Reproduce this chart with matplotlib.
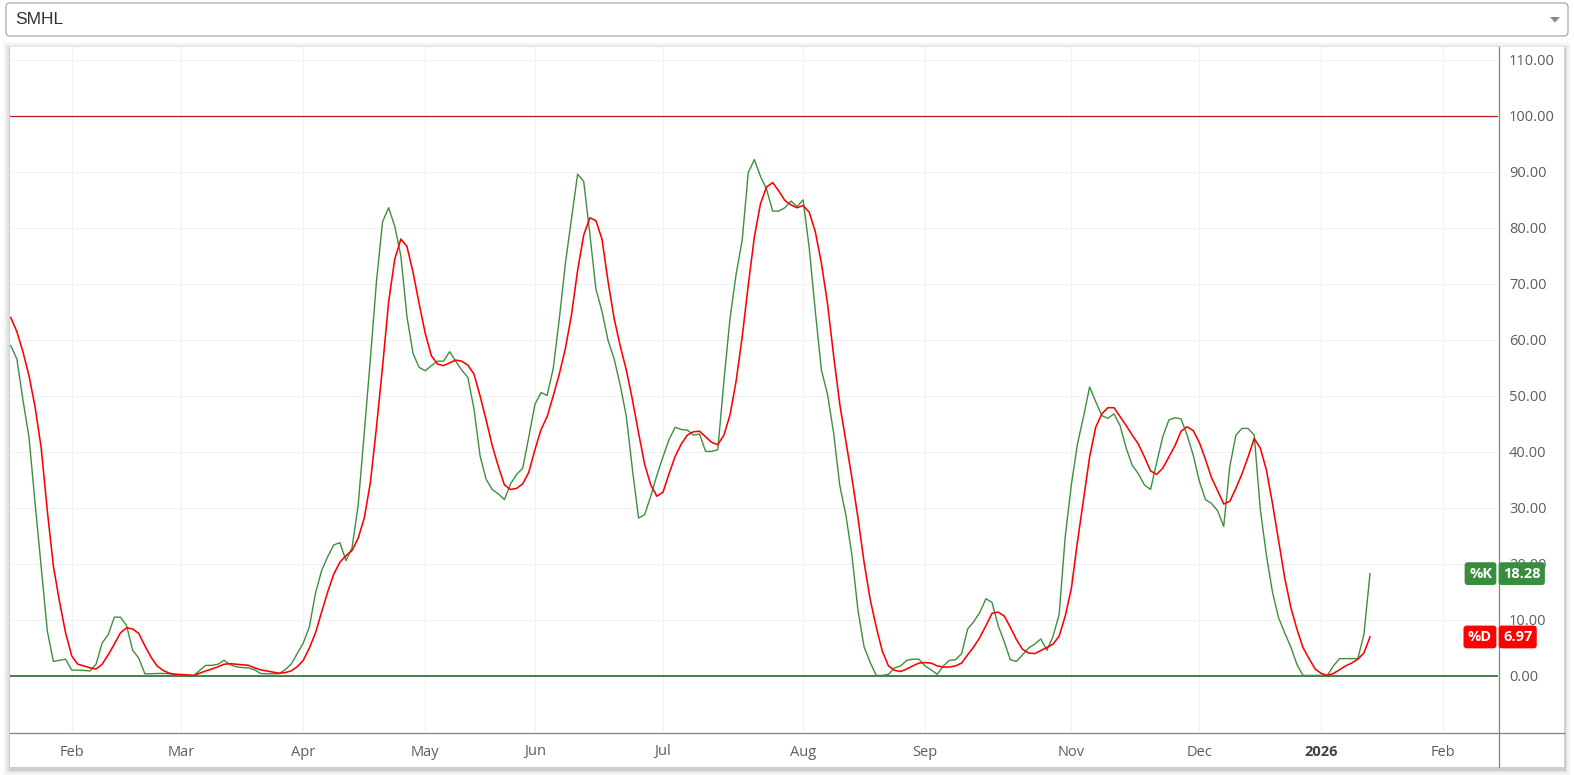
import numpy as np
import matplotlib.pyplot as plt
from matplotlib.patches import FancyBboxPatch, Rectangle, Polygon
from matplotlib import transforms

# ---------------- data ----------------
symbol = "SMHL"

k_values = [59.0, 56.6, 49.3, 42.6, 30.8, 19.5, 8.05, 2.6, 2.8, 3.0, 1.05, 1.05,
            1.0, 0.9, 2.1, 5.9, 7.4, 10.5, 10.5, 9.0, 4.6, 3.2, 0.4, 0.4,
            0.45, 0.45, 0.4, 0.3, 0.2, 0.1, 0.05, 1.0, 1.9, 1.9, 2.1, 2.8,
            2.0, 1.65, 1.5, 1.45, 1.1, 0.45, 0.4, 0.4, 0.4, 1.1, 2.1, 4.0,
            5.9, 8.8, 14.8, 18.8, 21.3, 23.4, 23.8, 20.6, 22.9, 30.5, 43.4, 56.6,
            70.4, 81.1, 83.6, 80.3, 75.0, 64.2, 57.6, 55.1, 54.5, 55.4, 56.2, 56.2,
            57.9, 56.2, 54.6, 53.3, 47.7, 39.3, 35.1, 33.3, 32.5, 31.5, 34.3, 36.0,
            37.1, 42.7, 48.5, 50.6, 50.1, 54.9, 63.8, 73.7, 81.7, 89.6, 88.3, 79.0,
            69.1, 65.1, 59.9, 56.6, 51.9, 46.3, 36.8, 28.2, 28.8, 32.1, 35.8, 39.1,
            42.2, 44.4, 44.0, 43.9, 43.0, 43.2, 40.1, 40.1, 40.4, 52.6, 63.8, 71.7,
            77.8, 89.9, 92.2, 89.2, 86.9, 83.0, 83.0, 83.6, 84.8, 83.8, 85.0, 76.4,
            65.1, 54.6, 50.3, 43.4, 34.1, 28.8, 21.6, 11.7, 5.2, 2.4, 0.1, 0.1,
            0.3, 1.45, 1.8, 2.8, 3.0, 3.0, 1.8, 1.1, 0.3, 1.8, 2.8, 2.9,
            4.0, 8.4, 9.7, 11.4, 13.8, 13.1, 9.0, 6.1, 2.9, 2.6, 3.8, 5.0,
            5.7, 6.6, 4.6, 7.1, 11.0, 24.9, 34.1, 41.4, 46.3, 51.6, 49.0, 46.5,
            46.0, 46.8, 44.7, 40.7, 37.6, 36.1, 34.1, 33.3, 38.1, 42.7, 45.7, 46.1,
            45.9, 43.0, 39.4, 34.8, 31.5, 30.8, 29.5, 26.7, 37.4, 43.0, 44.2, 44.2,
            43.0, 29.8, 21.6, 15.0, 10.4, 7.7, 5.2, 2.1, 0.1, 0.1, 0.1, 0.1,
            0.1, 1.8, 3.1, 3.1, 3.1, 3.1, 7.4, 18.28]

d_values = [64.0, 61.5, 57.9, 53.6, 48.0, 40.7, 29.5, 19.6, 13.3, 7.7, 3.6, 2.1,
            1.8, 1.45, 1.25, 2.1, 3.8, 5.7, 7.7, 8.6, 8.4, 7.6, 5.4, 3.4,
            1.8, 1.0, 0.5, 0.3, 0.25, 0.2, 0.1, 0.5, 0.9, 1.25, 1.65, 2.1,
            2.2, 2.1, 2.0, 1.9, 1.45, 1.1, 0.9, 0.7, 0.5, 0.6, 0.9, 1.65,
            2.8, 5.0, 7.7, 11.4, 15.0, 18.2, 20.3, 21.5, 22.4, 24.6, 28.2, 34.5,
            44.4, 55.2, 66.8, 74.4, 78.0, 76.7, 72.1, 66.5, 61.2, 57.2, 55.7, 55.4,
            55.9, 56.4, 56.2, 55.5, 53.9, 50.0, 45.7, 41.1, 37.4, 34.1, 33.3, 33.5,
            34.3, 36.4, 40.4, 44.0, 46.3, 50.0, 53.9, 58.5, 64.5, 72.4, 78.7, 81.8,
            81.3, 78.0, 70.4, 63.8, 58.9, 54.6, 49.3, 43.4, 37.8, 34.1, 32.1, 32.8,
            36.1, 39.2, 41.4, 43.0, 43.6, 43.7, 42.7, 41.7, 41.3, 43.0, 46.6, 52.6,
            60.5, 69.8, 78.4, 84.3, 87.3, 88.1, 86.6, 84.9, 84.1, 83.6, 84.0, 82.8,
            79.3, 73.7, 66.5, 57.2, 48.6, 42.0, 35.4, 28.2, 20.3, 13.7, 8.7, 4.4,
            1.8, 1.0, 0.8, 1.25, 1.8, 2.3, 2.4, 2.3, 1.8, 1.6, 1.6, 1.8,
            2.3, 3.8, 5.2, 6.9, 9.0, 11.2, 11.4, 10.7, 8.7, 6.5, 4.75, 4.1,
            4.0, 4.55, 5.1, 5.7, 7.1, 10.7, 15.6, 23.9, 31.5, 39.1, 44.4, 46.8,
            47.9, 47.9, 46.3, 44.7, 43.0, 41.4, 39.1, 36.6, 36.0, 37.1, 39.1, 41.1,
            43.7, 44.5, 43.8, 41.7, 38.7, 35.4, 33.1, 30.7, 31.2, 33.5, 36.1, 39.1,
            42.4, 40.7, 36.8, 30.8, 24.2, 17.6, 12.3, 8.4, 5.1, 3.1, 1.25, 0.45,
            0.1, 0.45, 1.1, 1.8, 2.3, 3.0, 4.1, 6.97]

month_pos = [10, 28, 48, 68, 86, 107, 130, 150, 174, 195, 215, 235]
month_labels = ["Feb", "Mar", "Apr", "May", "Jun", "Jul", "Aug", "Sep",
                "Nov", "Dec", "2026", "Feb"]
price_ticks = list(range(0, 111, 10))
upper_band = 100
lower_band = 0

# ---------------- figure ----------------
W, H = 1574, 775
fig = plt.figure(figsize=(W / 100, H / 100), dpi=100)
fig.patch.set_facecolor("white")

# background layer in pixel coords (dropdown + panel)
bg = fig.add_axes([0, 0, 1, 1])
bg.set_xlim(0, W)
bg.set_ylim(H, 0)
bg.axis("off")

# dropdown
bg.add_patch(FancyBboxPatch((6, 3), 1562, 33, boxstyle="round,pad=0,rounding_size=4",
                            fc="white", ec="#a9a9a9", lw=0.9))
bg.text(15, 20, symbol, fontsize=12.5, color="#333333", va="center", ha="left",
        family="Liberation Sans")
bg.add_patch(Polygon([[1550, 17], [1560, 17], [1555, 22.5]], closed=True,
                     fc="#888888", ec="none"))

# panel with soft shadow
px0, py0, px1, py1 = 10, 47, 1564, 767
for off, a in [(7, 0.025), (5, 0.04), (3, 0.06), (1.5, 0.08)]:
    bg.add_patch(Rectangle((px0 - off, py0 - off + 2), (px1 - px0) + 2 * off,
                           (py1 - py0) + 2 * off, fc="black", alpha=a, ec="none"))
bg.add_patch(Rectangle((px0, py0), px1 - px0, py1 - py0, fc="white", ec="none"))

# scale borders
bg.plot([px0, px1], [732.5, 732.5], color="#80838c", lw=0.9)
bg.plot([1498.5, 1498.5], [py0, py1], color="#80838c", lw=0.9)

# main chart
ax = fig.add_axes([10 / W, 1 - 732 / H, 1488 / W, 685 / H])
ax.set_facecolor("none")
x = np.arange(len(k_values))

ax.axhline(upper_band, color="#b71c1c", lw=0.9, zorder=2)
ax.axhline(lower_band, color="#1b5e20", lw=1.1, zorder=2)
ax.plot(x, k_values, color="#3d8f3d", lw=1.0, zorder=3)
ax.plot(x, d_values, color="#ff0000", lw=1.15, zorder=4)

ax.set_xlim(-0.12, 244)
ax.set_ylim(-10, 112.3)

ax.set_yticks(price_ticks)
ax.set_yticklabels([f"{v:.2f}" for v in price_ticks])
ax.yaxis.tick_right()
ax.set_xticks(month_pos)
ax.set_xticklabels(month_labels)
ax.grid(True, color="#eff1f6", lw=0.8, zorder=0)
ax.tick_params(axis="y", length=0, pad=8, labelsize=10.5, labelcolor="#5d5d5d")
ax.tick_params(axis="x", length=0, pad=9, labelsize=10.5, labelcolor="#5d5d5d")
for lab in ax.get_yticklabels() + ax.get_xticklabels():
    lab.set_family("Open Sans")
for lab in ax.get_xticklabels():
    if lab.get_text() == "2026":
        lab.set_fontweight("bold")
        lab.set_color("#404040")
for sp in ax.spines.values():
    sp.set_visible(False)

# last-value badges on the price scale (drawn over the tick labels)
trans = transforms.blended_transform_factory(ax.transAxes, ax.transData)
badges = [("%K", k_values[-1], "#388e3c"), ("%D", d_values[-1], "#ff0000")]
for name, val, col in badges:
    box = dict(boxstyle="round,pad=0.3,rounding_size=0.2", fc=col, ec="none")
    ax.annotate(f"{val:.2f}", xy=(1, val), xycoords=trans, xytext=(5, 0),
                textcoords="offset pixels", ha="left", va="center", color="white",
                fontsize=10.5, fontweight="bold", family="Open Sans", bbox=box,
                annotation_clip=False, zorder=6)
    ax.annotate(name, xy=(1, val), xycoords=trans, xytext=(-6, 0),
                textcoords="offset pixels", ha="right", va="center", color="white",
                fontsize=10.5, fontweight="bold", family="Open Sans", bbox=box,
                annotation_clip=False, zorder=6)

fig.savefig("out.png", dpi=100)
